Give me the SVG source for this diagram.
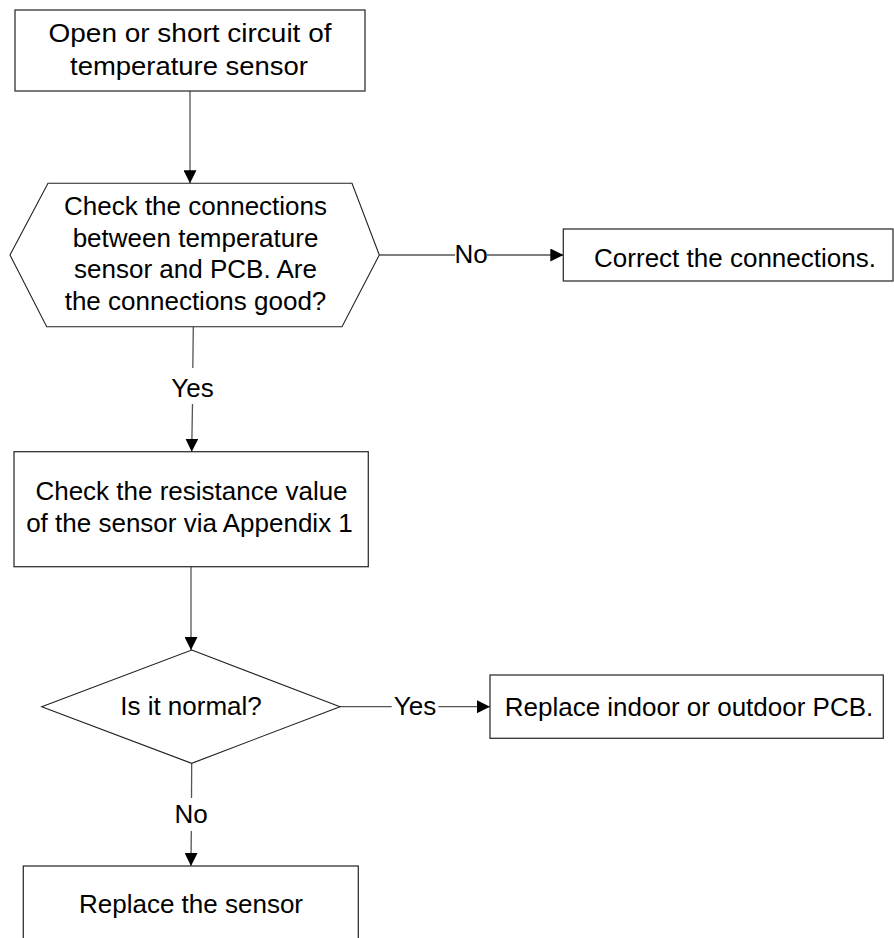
<svg xmlns="http://www.w3.org/2000/svg" width="894" height="938" viewBox="0 0 894 938">
<style>
.shape{fill:#fff;stroke:#222;stroke-width:1.1}
.box{fill:#fff;stroke:#333;stroke-width:1.3}
.conn{fill:none;stroke:#555;stroke-width:1.3}
text{font-family:"Liberation Sans",Arial,Helvetica,sans-serif;font-size:26px;fill:#000}
.c{text-anchor:middle}
</style>
<defs>
<marker id="arr" viewBox="0 0 13 13" refX="13" refY="6.5" markerWidth="13" markerHeight="13" markerUnits="userSpaceOnUse" orient="auto">
<path d="M0,0 L13,6.5 L0,13 Z" fill="#000"/>
</marker>
</defs>
<rect width="894" height="938" fill="#fff"/>
<g id="connectors">
<path class="conn" d="M190,91 L190,183.3" marker-end="url(#arr)"/>
<path class="conn" d="M379.3,255 L455,255"/>
<path class="conn" d="M487,255 L563.3,255" marker-end="url(#arr)"/>
<text class="c" x="471" y="263.3">No</text>
<path class="conn" d="M193.3,327 L192.8,368"/>
<path class="conn" d="M192.5,404 L191.7,451.7" marker-end="url(#arr)"/>
<text class="c" x="192.5" y="396.7">Yes</text>
<path class="conn" d="M191,566.7 L191,650" marker-end="url(#arr)"/>
<path class="conn" d="M340,706.7 L391.7,706.7"/>
<path class="conn" d="M438.3,706.7 L490,706.7" marker-end="url(#arr)"/>
<text class="c" x="415" y="715">Yes</text>
<path class="conn" d="M191.7,763.3 L191.5,798"/>
<path class="conn" d="M191.3,831 L191,866" marker-end="url(#arr)"/>
<text class="c" x="191" y="822.7">No</text>
</g>
<g id="start">
<rect class="box" x="15" y="10" width="350" height="81"/>
<text class="c" x="190" y="41.7" textLength="283" lengthAdjust="spacingAndGlyphs">Open or short circuit of</text>
<text class="c" x="189" y="75" textLength="238" lengthAdjust="spacingAndGlyphs">temperature sensor</text>
</g>
<g id="check-connections">
<polygon class="shape" points="48,183.3 352,183.3 379.3,255 342,326.7 46.7,326.7 10,255"/>
<text class="c" x="195.5" y="215">Check the connections</text>
<text class="c" x="195.5" y="246.5">between temperature</text>
<text class="c" x="195.5" y="278">sensor and PCB. Are</text>
<text class="c" x="195.5" y="310">the connections good?</text>
</g>
<g id="correct-connections">
<rect class="box" x="563.3" y="229" width="329.7" height="52"/>
<text class="c" x="735" y="267">Correct the connections.</text>
</g>
<g id="check-resistance">
<rect class="box" x="14" y="451.7" width="354.3" height="115"/>
<text class="c" x="191.5" y="500">Check the resistance value</text>
<text class="c" x="189.5" y="531.7">of the sensor via Appendix 1</text>
</g>
<g id="is-normal">
<polygon class="shape" points="191.7,650 340,706.7 191.7,763.3 41.7,706.7"/>
<text class="c" x="191" y="715">Is it normal?</text>
</g>
<g id="replace-pcb">
<rect class="box" x="490" y="675" width="393.3" height="63.3"/>
<text class="c" x="689" y="716">Replace indoor or outdoor PCB.</text>
</g>
<g id="replace-sensor">
<rect class="box" x="23.3" y="866" width="335" height="100"/>
<text class="c" x="191" y="913.3">Replace the sensor</text>
</g>
</svg>
